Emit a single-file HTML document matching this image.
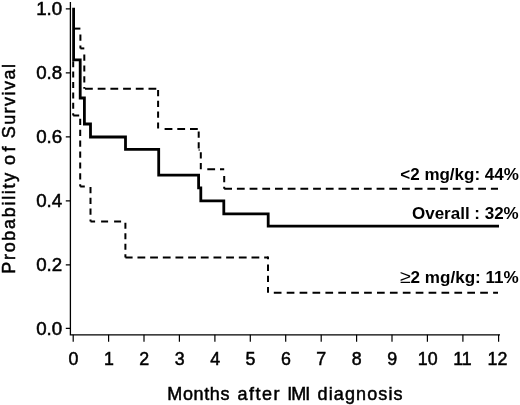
<!DOCTYPE html>
<html><head><meta charset="utf-8">
<style>
html,body{margin:0;padding:0;background:#fff;}
svg{display:block;}
text{font-family:"Liberation Sans",sans-serif;fill:#000;}
.tk,.ax{stroke:#000;stroke-width:0.5px;}
.tk{font-size:17.8px;}
.ax{font-size:18px;}
.lb{font-size:16px;font-weight:bold;}
</style></head>
<body>
<svg width="520" height="405" viewBox="0 0 520 405">
<rect width="520" height="405" fill="#fff"/>
<!-- axes -->
<g stroke="#000" stroke-width="1.2" fill="none">
<path d="M70.4 2 V334.8 H500" stroke-width="1.3"/>
<path d="M65.8 8.8H70 M65.8 72.8H70 M65.8 136.8H70 M65.8 200.8H70 M65.8 264.8H70 M65.8 328.4H70"/>
<path d="M73.2 334.8v7 M108.6 334.8v7 M144 334.8v7 M179.4 334.8v7 M214.9 334.8v7 M250.3 334.8v7 M285.7 334.8v7 M321.2 334.8v7 M356.6 334.8v7 M392 334.8v7 M427.4 334.8v7 M462.9 334.8v7 M498.6 334.8v7"/>
</g>
<!-- DASH-START -->
<g stroke="#000" stroke-width="2" fill="none">
<path d="M73.5 28.6L80.4 28.6" stroke-dasharray="7.8 4.9" stroke-dashoffset="0.00"/>
<path d="M80.4 34.6L80.4 48.4" stroke-dasharray="6.2 4.6" stroke-dashoffset="0.00"/>
<path d="M80.4 48.4L84.3 48.4" stroke-dasharray="7.8 4.9" stroke-dashoffset="3.00"/>
<path d="M84.3 54.6L84.3 88.8" stroke-dasharray="6.2 4.6" stroke-dashoffset="0.00"/>
<path d="M85.0 88.8L158.1 88.8" stroke-dasharray="7.8 4.9" stroke-dashoffset="0.00"/>
<path d="M158.1 90.0L158.1 129.1" stroke-dasharray="6.2 4.6" stroke-dashoffset="0.00"/>
<path d="M164.6 129.1L198.7 129.1" stroke-dasharray="7.8 4.9" stroke-dashoffset="0.00"/>
<path d="M198.7 131.5L198.7 150" stroke-dasharray="6.2 4.6" stroke-dashoffset="0.00"/>
<path d="M198.7 150.0L200.8 150" stroke-dasharray="7.8 4.9" stroke-dashoffset="7.00"/>
<path d="M200.8 152.3L200.8 169.2" stroke-dasharray="6.2 4.6" stroke-dashoffset="0.00"/>
<path d="M207.3 169.2L224.2 169.2" stroke-dasharray="7.8 4.9" stroke-dashoffset="0.00"/>
<path d="M224.2 176.0L224.2 188.8" stroke-dasharray="6.2 4.6" stroke-dashoffset="0.00"/>
<path d="M224.2 188.8L498 188.8" stroke-dasharray="7.8 4.9" stroke-dashoffset="0.00"/>
<path d="M73.2 61.2L73.2 115.5" stroke-dasharray="6 4.4" stroke-dashoffset="0.00"/>
<path d="M73.2 115.5L79.2 115.5" stroke-dasharray="8 5" stroke-dashoffset="0.00"/>
<path d="M80.2 118.8L80.2 186.5" stroke-dasharray="6.2 4.7" stroke-dashoffset="0.00"/>
<path d="M80.2 186.5L84.8 186.5" stroke-dasharray="8 5" stroke-dashoffset="0.00"/>
<path d="M90.5 187.0L90.5 221.5" stroke-dasharray="6.2 4.6" stroke-dashoffset="0.00"/>
<path d="M90.5 221.5L125.4 221.5" stroke-dasharray="7 6" stroke-dashoffset="2.40"/>
<path d="M125.4 222.7L125.4 257.4" stroke-dasharray="6 4.5" stroke-dashoffset="0.00"/>
<path d="M125.4 257.4L268 257.4" stroke-dasharray="7.8 4.87" stroke-dashoffset="0.60"/>
<path d="M268.0 256.6L268 259.2" stroke-dasharray="8 5" stroke-dashoffset="0.00"/>
<path d="M268.0 264.6L268 292.8" stroke-dasharray="6.3 4.9" stroke-dashoffset="0.00"/>
<path d="M273.8 292.8L498 292.8" stroke-dasharray="7.7 5.2" stroke-dashoffset="0.00"/>
</g>
<!-- DASH-END -->
<!-- solid curve -->
<path d="M73.6 7.7 V59.8 H80.2 V98 H84.4 V124 H90.5 V137 H125.5 V149.3 H158.7 V175.2 H198.6 V187.8 H200.8 V200.8 H223.8 V213.8 H268.2 V226.1 H499" stroke="#000" stroke-width="2.8" fill="none"/>
<!-- y tick labels -->
<g class="tk" text-anchor="end">
<text x="62.2" y="15.2" textLength="26" lengthAdjust="spacingAndGlyphs">1.0</text>
<text x="62.2" y="79.2" textLength="26" lengthAdjust="spacingAndGlyphs">0.8</text>
<text x="62.2" y="143.2" textLength="26" lengthAdjust="spacingAndGlyphs">0.6</text>
<text x="62.2" y="207.2" textLength="26" lengthAdjust="spacingAndGlyphs">0.4</text>
<text x="62.2" y="271.2" textLength="26" lengthAdjust="spacingAndGlyphs">0.2</text>
<text x="62.2" y="334.8" textLength="26" lengthAdjust="spacingAndGlyphs">0.0</text>
</g>
<g class="tk" text-anchor="middle">
<text x="73.5" y="365">0</text>
<text x="108.9" y="365">1</text>
<text x="144.3" y="365">2</text>
<text x="179.7" y="365">3</text>
<text x="215.1" y="365">4</text>
<text x="250.5" y="365">5</text>
<text x="285.9" y="365">6</text>
<text x="321.3" y="365">7</text>
<text x="356.7" y="365">8</text>
<text x="392.1" y="365">9</text>
<text x="427.7" y="365">10</text>
<text x="462.5" y="365">11</text>
<text x="497.5" y="365">12</text>
</g>
<text class="ax" y="399.5"><tspan x="167.3" textLength="62.2" lengthAdjust="spacing">Months</tspan> <tspan x="237.5" textLength="42" lengthAdjust="spacing">after</tspan> <tspan x="287.3" textLength="23" lengthAdjust="spacing">IMI</tspan> <tspan x="317.5" textLength="85" lengthAdjust="spacing">diagnosis</tspan></text>
<text class="ax" transform="translate(15 272.5) rotate(-90)"><tspan x="-1.2" textLength="100.9" lengthAdjust="spacing">Probability</tspan> <tspan x="107.6" textLength="18.4" lengthAdjust="spacing">of</tspan> <tspan x="134.2" textLength="74.2" lengthAdjust="spacing">Survival</tspan></text>
<text class="lb" x="400.3" y="180.1" textLength="118.5" lengthAdjust="spacingAndGlyphs">&lt;2 mg/kg: 44%</text>
<text class="lb" x="412" y="219.1" textLength="106.7" lengthAdjust="spacingAndGlyphs">Overall : 32%</text>
<text class="lb" x="399.8" y="282.5" textLength="118.9" lengthAdjust="spacingAndGlyphs"><tspan font-weight="normal" font-size="18.5">≥</tspan>2 mg/kg: 11%</text>
</svg>
</body></html>
